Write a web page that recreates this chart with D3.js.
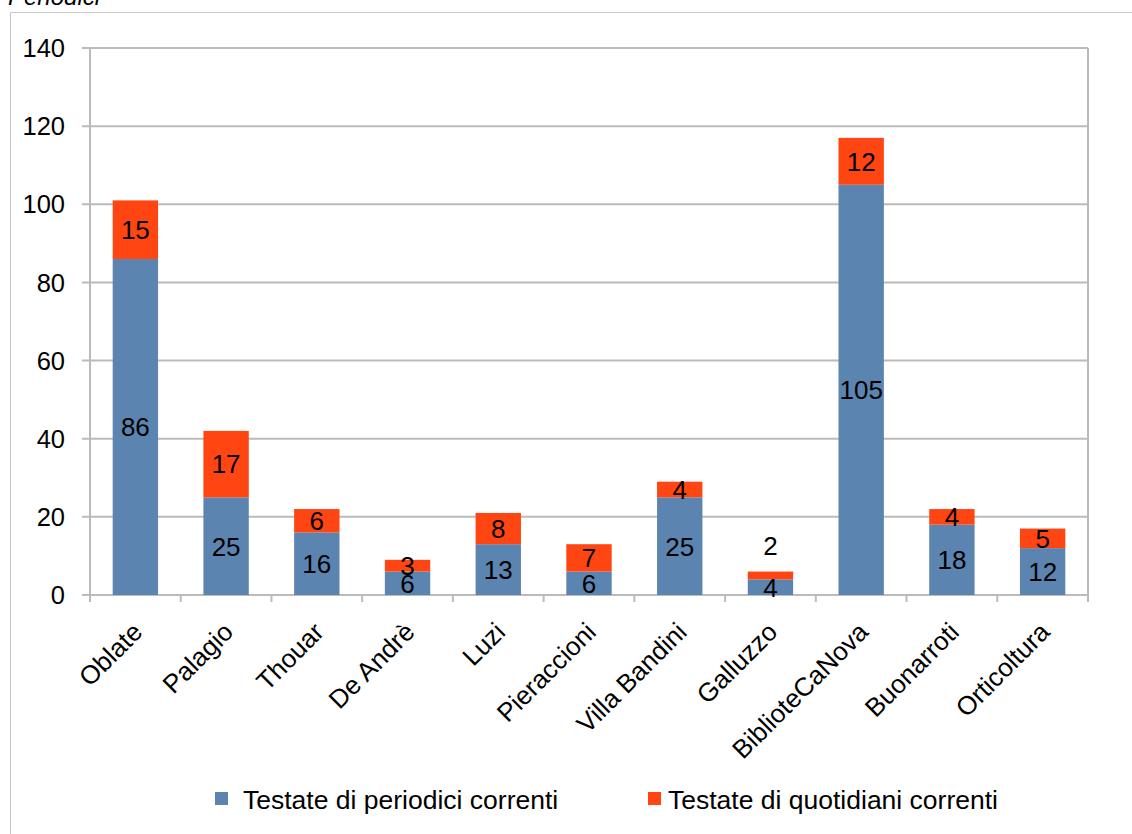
<!DOCTYPE html>
<html><head><meta charset="utf-8">
<script src="https://cdn.jsdelivr.net/npm/d3@7/dist/d3.min.js"></script>
<style>body{margin:0;background:#fff}svg{display:block;font-family:"Liberation Sans",Arial,sans-serif}</style>
</head><body><svg id="c" width="1132" height="834"></svg>
<script>
const categories = ["Oblate","Palagio","Thouar","De Andrè","Luzi","Pieraccioni","Villa Bandini","Galluzzo","BiblioteCaNova","Buonarroti","Orticoltura"];
const periodici = [86,25,16,6,13,6,25,4,105,18,12];
const quotidiani = [15,17,6,3,8,7,4,2,12,4,5];
const seriesNames = ["Testate di periodici correnti","Testate di quotidiani correnti"];
const yTicks = [0,20,40,60,80,100,120,140];
const colors = ["#5B84B1","#FF4512"];

const svg = d3.select("#c");
const L=90,R=1088,T=48,B=595;
const y = d3.scaleLinear().domain([0,140]).range([B,T]);

// outer border
svg.append("path").attr("d","M10.5,834 V12.5 H1132").attr("fill","none").attr("stroke","#c8c8c8").attr("stroke-width",1);
svg.append("text").attr("x",8).attr("y",5).attr("font-size",24).attr("font-style","italic").text("Periodici");

// grid
svg.append("g").selectAll("line").data(yTicks).join("line")
  .attr("x1",L-8).attr("x2",R).attr("y1",d=>y(d)).attr("y2",d=>y(d))
  .attr("stroke","#bbbbbb").attr("stroke-width",2);
svg.append("line").attr("x1",R).attr("x2",R).attr("y1",T).attr("y2",B+7).attr("stroke","#bbbbbb").attr("stroke-width",2);
svg.append("line").attr("x1",L).attr("x2",L).attr("y1",T).attr("y2",B+7).attr("stroke","#bbbbbb").attr("stroke-width",2);
svg.append("g").selectAll("line").data(d3.range(categories.length+1)).join("line")
  .attr("x1",i=>L+i*(R-L)/categories.length).attr("x2",i=>L+i*(R-L)/categories.length)
  .attr("y1",B).attr("y2",B+7).attr("stroke","#bbbbbb").attr("stroke-width",2);

svg.append("g").selectAll("text").data(yTicks).join("text")
  .attr("x",L-25).attr("y",d=>y(d)).attr("dy","0.36em").attr("text-anchor","end")
  .attr("font-size",25.5).attr("fill","#000").text(d=>d);

const band = (R-L)/categories.length;
const cx = i => L + band*(i+0.5);
const bw = band*0.5;

const g = svg.append("g");
categories.forEach((c,i)=>{
  const p=periodici[i], q=quotidiani[i];
  g.append("rect").attr("x",cx(i)-bw/2).attr("width",bw).attr("y",y(p)).attr("height",y(0)-y(p)).attr("fill",colors[0]);
  g.append("rect").attr("x",cx(i)-bw/2).attr("width",bw).attr("y",y(p+q)).attr("height",y(p)-y(p+q)).attr("fill",colors[1]);
  g.append("text").attr("x",cx(i)).attr("y",(y(0)+y(p))/2).attr("dy","0.36em").attr("text-anchor","middle").attr("font-size",26).text(p);
  let ly=(y(p)+y(p+q))/2;
  if (c==="Galluzzo") ly = y(p+q)-26;
  g.append("text").attr("x",cx(i)).attr("y",ly).attr("dy","0.36em").attr("text-anchor","middle").attr("font-size",26).text(q);
  svg.append("text").attr("transform",`translate(${cx(i)+2},${B+32}) rotate(-45)`)
    .attr("text-anchor","end").attr("dy","0.36em").attr("font-size",26).text(c);
});

// legend
const leg = [{x:215,tx:243},{x:648,tx:668}];
seriesNames.forEach((s,i)=>{
  svg.append("rect").attr("x",leg[i].x).attr("y",792).attr("width",13).attr("height",13).attr("fill",colors[i]);
  svg.append("text").attr("x",leg[i].tx).attr("y",799).attr("dy","0.36em").attr("font-size",26.5).text(s);
});
</script></body></html>
